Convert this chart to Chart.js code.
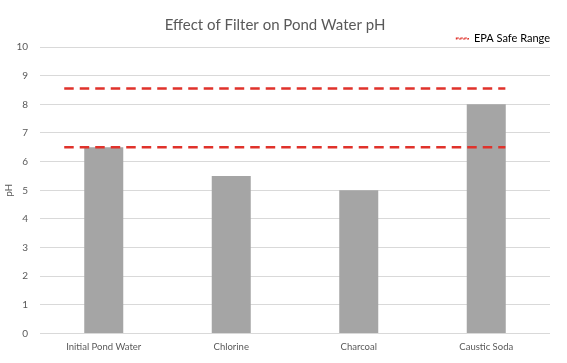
<!DOCTYPE html>
<html>
<head>
    <title>Effect of Filter on Pond Water pH</title>
    <style>
        html, body {
            margin: 0;
            padding: 0;
            background-color: #fff;
        }
        .chart-box {
            width: 567px;
            height: 363px;
        }
    </style>
</head>
<body>
    <div class="chart-box">
        <canvas id="ph-chart"></canvas>
    </div>

    <script src="https://cdn.jsdelivr.net/npm/chart.js"></script>
    <script>
        // Data
        const categories = ["Initial Pond Water", "Chlorine", "Charcoal", "Caustic Soda"];
        const phValues = [6.5, 5.5, 5, 8];
        const safeLow = 6.5;
        const safeHigh = 8.55;
        // where the dashed lines start / stop, in category units (0 = left edge, 4 = right edge)
        const safeFrom = 0.19;
        const safeTo = 3.65;
        const yTicks = [0, 1, 2, 3, 4, 5, 6, 7, 8, 9, 10];

        const font = "Lato, 'Liberation Sans', Arial, sans-serif";
        const red = "#e0322b";

        function rangeLine(v) {
            return [{ x: safeFrom, y: v }, { x: safeTo, y: v }];
        }

        // the legend adds extra space below itself, trim it
        const legendHeight = {
            id: "legendHeight",
            afterInit(chart) {
                const fit = chart.legend.fit;
                chart.legend.fit = function () {
                    fit.call(this);
                    this.height = 14;
                };
            },
        };

        const ctx = document.getElementById("ph-chart").getContext("2d");
        new Chart(ctx, {
            type: "bar",
            data: {
                labels: categories,
                datasets: [
                    {
                        label: "pH",
                        data: phValues,
                        backgroundColor: "#a5a5a5",
                        barPercentage: 0.306,
                        categoryPercentage: 1,
                        grouped: false,
                        order: 2,
                    },
                    {
                        type: "line",
                        label: "EPA Safe Range",
                        data: rangeLine(safeHigh),
                        xAxisID: "x2",
                        borderColor: red,
                        borderWidth: 2.5,
                        borderDash: [9.5, 6],
                        pointRadius: 0,
                        fill: false,
                        order: 1,
                    },
                    {
                        type: "line",
                        label: "EPA Safe Range low",
                        data: rangeLine(safeLow),
                        xAxisID: "x2",
                        borderColor: red,
                        borderWidth: 2.5,
                        borderDash: [9.5, 6],
                        pointRadius: 0,
                        fill: false,
                        order: 1,
                    },
                ],
            },
            options: {
                responsive: true,
                maintainAspectRatio: false,
                animation: false,
                layout: {
                    padding: { left: 0, right: 17, top: 0, bottom: 2 },
                },
                plugins: {
                    title: {
                        display: true,
                        text: "Effect of Filter on Pond Water pH",
                        color: "#595959",
                        font: { family: font, size: 15, weight: "normal", lineHeight: 1 },
                        padding: { top: 18, bottom: 0 },
                    },
                    legend: {
                        display: true,
                        position: "top",
                        align: "end",
                        labels: {
                            color: "#000",
                            font: { family: font, size: 11 },
                            padding: 0,
                            boxWidth: 12,
                            boxHeight: 1,
                            generateLabels: () => [{
                                text: "EPA Safe Range",
                                fillStyle: "rgba(0,0,0,0)",
                                strokeStyle: red,
                                lineWidth: 1.2,
                                lineDash: [2.5, 1.5],
                                hidden: false,
                                datasetIndex: 1,
                            }],
                        },
                    },
                    tooltip: { enabled: false },
                },
                scales: {
                    x: {
                        grid: { display: false, drawTicks: false },
                        border: { display: false },
                        ticks: {
                            color: "#595959",
                            font: { family: font, size: 9.5 },
                            padding: 8,
                        },
                    },
                    x2: {
                        type: "linear",
                        display: false,
                        offset: false,
                        min: 0,
                        max: 4,
                    },
                    y: {
                        min: 0,
                        max: 10,
                        afterBuildTicks: (scale) => {
                            scale.ticks = yTicks.map((v) => ({ value: v }));
                        },
                        afterFit: (scale) => {
                            scale.width = 40;
                        },
                        grid: { color: "#d9d9d9", drawTicks: false },
                        border: { display: false },
                        ticks: {
                            color: "#595959",
                            font: { family: font, size: 10 },
                            padding: 12,
                        },
                        title: {
                            display: true,
                            text: "pH",
                            color: "#595959",
                            font: { family: font, size: 10 },
                            padding: 3,
                        },
                    },
                },
            },
            plugins: [legendHeight],
        });
    </script>
</body>
</html>
